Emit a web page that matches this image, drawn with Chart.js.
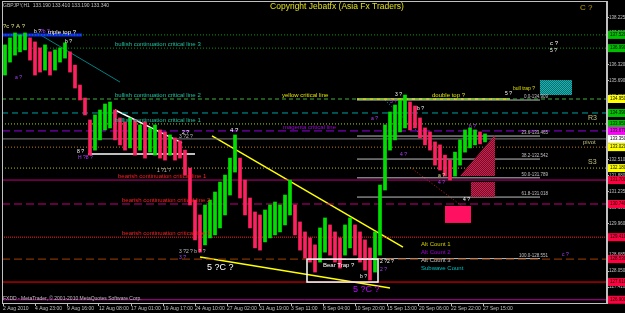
<!DOCTYPE html>
<html>
<head>
<meta charset="utf-8">
<script src="https://cdn.jsdelivr.net/npm/chart.js@4.4.0/dist/chart.umd.min.js"></script>
<style>
  html, body { margin: 0; padding: 0; background: #000; }
  #wrap { width: 625px; height: 313px; }
</style>
</head>
<body>
<div id="wrap"><canvas id="chart" width="625" height="313"></canvas></div>
<script>
// x unit = number of H1 bars since 2 Aug 2010 00:00
var timeTicks = [0, 64, 128, 192, 256, 320, 384, 448, 512, 576, 640, 704, 768, 832, 896, 960];
var timeLabels = ['2 Aug 2010', '4 Aug 23:00', '9 Aug 16:00', '12 Aug 08:00', '17 Aug 01:00', '19 Aug 17:00',
  '24 Aug 10:00', '27 Aug 02:00', '31 Aug 19:00', '3 Sep 11:00', '8 Sep 04:00', '10 Sep 20:00',
  '15 Sep 13:00', '20 Sep 06:00', '22 Sep 22:00', '27 Sep 15:00'];
var priceTicks = [138.225, 137.590, 136.955, 136.320, 135.690, 135.050, 134.415, 133.780, 133.145,
  132.510, 131.880, 131.235, 130.600, 129.960, 129.330, 128.685, 128.050, 127.410];

// GBPJPY price ranges, one bar per 10 hours
var barHigh = [137.12,137.40,137.60,137.52,137.60,137.40,137.24,137.00,137.12,136.84,
  136.92,137.00,137.20,136.84,136.31,135.51,134.99,134.11,134.31,134.51,
  134.75,134.83,134.51,134.19,134.03,134.19,134.11,133.91,134.03,133.79,
  133.91,133.71,133.63,133.51,133.39,133.27,132.90,132.18,130.90,130.30,
  130.70,130.90,131.22,131.62,131.90,132.58,133.51,132.58,131.70,130.98,
  130.42,130.30,130.50,130.70,130.82,130.70,131.10,131.70,130.70,130.02,
  129.62,129.38,129.10,129.78,130.18,129.90,129.62,129.38,129.90,130.18,
  129.90,129.62,129.30,128.98,129.62,131.50,133.91,134.43,134.71,134.91,
  135.11,134.83,134.67,134.19,133.79,133.63,133.23,133.11,132.70,132.50,
  132.82,133.31,133.71,133.79,133.71,133.63,133.55];
var barLow = [135.91,136.43,136.71,136.84,136.92,136.51,135.91,136.03,136.11,135.91,
  136.11,136.43,136.59,136.03,135.39,134.91,134.31,132.70,132.90,133.31,
  133.71,133.79,133.31,133.11,132.90,132.99,132.70,132.90,132.58,132.82,
  132.70,132.58,132.50,132.70,132.50,132.58,131.90,130.70,129.30,128.81,
  129.10,129.38,129.50,129.78,130.30,131.10,132.02,130.98,130.30,129.78,
  128.98,128.89,129.22,129.38,129.50,129.62,129.90,130.30,129.50,128.89,
  128.57,128.41,128.01,128.41,128.81,128.69,128.41,128.17,128.69,128.98,
  128.69,128.41,128.09,127.69,128.01,128.69,131.30,132.90,133.31,133.63,
  133.79,133.71,133.79,133.39,133.11,132.90,132.30,132.10,131.86,131.70,
  131.86,132.30,132.82,132.99,133.11,133.15,133.23];

// horizontal critical lines
var levelPrices = [137.52, 136.99, 134.95, 134.39, 133.95, 133.67, 133.35, 133.02, 132.18, 131.70, 130.74, 129.41, 128.53, 127.61, 126.90];
var levelColors = ['#00a000','#00a000','#40b040','#00a0a0','#a0e000','#9000e0','#808080','#c08000','#c0c000','#c00080','#c00080','#ff2020','#a04000','#ff0000','#c000a0'];
var levelDash = [[1,2],[1,2],[4,3],[6,4],[1,2],[8,4],[],[1,2],[1,2],[],[8,4],[1,1],[8,4],[],[]];
var boxColors = ['#00c000','#00c000','#ffff00','#00c000','#00c000','#ff00ff','#ffffff','#ffff00','#ffff00','#ff0040','#ff0040','#ff0040','#ff0040','#ff0040','#ff0040'];

var lineLabels = [
  [224, 136.99, 'bullish continuation critical line 3', '#20c0a0'],
  [224, 134.95, 'bullish continuation critical line 2', '#20c0a0'],
  [558, 134.95, 'yellow critical line', '#e0e000'],
  [858, 134.95, 'double top ?', '#e0e000'],
  [224, 133.95, 'bullish continuation critical line 1', '#20c0a0'],
  [560, 133.67, 'magenta critical line', '#a000e0'],
  [230, 131.70, 'bearish continuation critical line 1', '#ff2020'],
  [238, 130.74, 'bearish continuation critical line 2', '#ff2020'],
  [238, 129.41, 'bearish continuation critical line 3', '#ff2020']
];

// fibonacci retracement
var fibPrices = [134.909, 133.465, 132.542, 131.789, 131.018, 128.551];
var fibNames = ['0.0-134.909', '23.6-133.465', '38.2-132.542', '50.0-131.789', '61.8-131.018', '100.0-128.551'];
var fibStart = 708, fibEnd = 1074;

// trend lines: t1, p1, t2, p2, colour, width, dash
var trendLines = [
  [-2, 137.52, 158, 137.52, '#1028ff', 3, []],
  [708, 134.95, 1014, 134.95, '#ffff00', 1.5, []],
  [800, 134.95, 1014, 134.95, '#2040ff', 1.5, [4,4]],
  [68, 137.60, 234, 135.63, '#008080', 1, []],
  [224, 134.51, 358, 133.19, '#ffffff', 1.5, []],
  [170, 132.74, 384, 132.74, '#ffffff', 1.5, []],
  [418, 133.47, 800, 129.01, '#ffff00', 1.5, []],
  [394, 128.61, 774, 127.37, '#ffff00', 1.5, []],
  [764, 134.91, 888, 132.50, '#00a0a0', 1, [1,2]],
  [814, 132.22, 934, 130.42, '#c02020', 1, [1,2]]
];

// wave count notes: t, p, text, colour, size
var notes = [
  [0, 137.88, '?c ? A ?', '#e0e080', 6],
  [62, 137.64, 'b ?', '#ffffff', 5],
  [74, 137.64, '?b ?', '#b040ff', 5],
  [90, 137.64, 'triple top ?', '#ffffff', 6],
  [124, 137.24, 'b ?', '#ffffff', 5],
  [24, 135.79, 'a ?', '#b040ff', 5],
  [148, 132.82, '8 ?', '#ffffff', 5],
  [150, 132.58, 'H ?8 ?', '#b040ff', 5],
  [454, 133.71, '4 ?', '#ffffff', 6],
  [358, 133.59, '2 ?', '#ffffff', 5],
  [352, 133.45, '3 ?2 ?', '#c0c0c0', 5],
  [308, 132.06, '1 ?1 ?', '#c0c0c0', 5],
  [352, 128.85, '3 ?2 ? b ? ?', '#c0c0c0', 5],
  [352, 128.57, '3 ?', '#b040ff', 5],
  [408, 128.21, '5 ?C ?', '#ffffff', 9],
  [640, 128.29, 'Bear Trap ?', '#ffffff', 6],
  [714, 127.81, 'b ?', '#ffffff', 5],
  [700, 127.33, '5 ?C ?', '#c000ff', 9],
  [754, 128.41, '2 ?2 ?', '#ffffff', 5],
  [754, 128.09, '2 ?', '#b040ff', 5],
  [736, 134.15, 'a ?', '#b040ff', 5],
  [784, 135.11, '3 ?', '#ffffff', 5],
  [774, 134.83, '5 ?', '#b040ff', 5],
  [828, 134.55, 'b ?', '#ffffff', 5],
  [794, 132.70, '4 ?', '#b040ff', 5],
  [870, 131.86, 'a ?', '#e0e080', 5],
  [870, 131.58, '4 ?', '#b040ff', 5],
  [920, 130.90, '4 ?', '#ffffff', 5],
  [932, 133.83, 'b ?', '#b040ff', 5],
  [1004, 135.15, '5 ?', '#ffffff', 5],
  [1020, 135.35, 'bull trap ?', '#e0e000', 5],
  [1094, 137.20, 'c ?', '#ffffff', 6],
  [1094, 136.88, '5 ?', '#ffffff', 5],
  [1118, 128.69, 'c ?', '#b040ff', 5],
  [836, 129.14, 'Alt Count 1', '#d0d000', 6],
  [836, 128.81, 'Alt Count 2', '#a000e0', 6],
  [836, 128.49, 'Alt Count 3', '#c0c0c0', 6],
  [836, 128.17, 'Subwave Count', '#00c0c0', 6],
  [1170, 134.19, 'R3', '#c0c080', 7],
  [1160, 133.23, 'pivot', '#c0c080', 6],
  [1170, 132.42, 'S3', '#c0c080', 7]
];

// zones: t1, p1, t2, p2
var tealZone = [1074, 135.71, 1138, 135.11];
var redZone = [936, 131.62, 984, 131.02];
var pinkZone = [884, 130.66, 936, 129.98];
var bearTrapBox = [608, 128.53, 750, 127.61];
var redTriangle = [[914, 131.86], [984, 133.51], [984, 131.86]];

var FONT = '"Liberation Sans", Arial, sans-serif';

var barTimes = [];
for (var i = 0; i < barHigh.length; i++) barTimes.push(4 + i * 10);

function seg(t1, p1, t2, p2, color, width, dash) {
  return {
    type: 'line', data: [{x: t1, y: p1}, {x: t2, y: p2}],
    borderColor: color, borderWidth: width, borderDash: dash,
    pointRadius: 0, fill: false, order: 2
  };
}

var datasets = [];
datasets.push({
  type: 'bar', label: 'GBPJPY',
  data: barTimes.map(function (t, i) { return {x: t, y: [barLow[i], barHigh[i]]}; }),
  backgroundColor: function (c) {
    var i = c.dataIndex;
    if (i === 0) return '#00e000';
    var m = barHigh[i] + barLow[i], pm = barHigh[i - 1] + barLow[i - 1];
    return m >= pm ? '#00e000' : '#ff2060';
  },
  barThickness: 3, order: 0
});
levelPrices.forEach(function (p, i) {
  datasets.push(seg(-2, p, 1208, p, levelColors[i], 1, levelDash[i]));
});
fibPrices.forEach(function (p) {
  datasets.push(seg(fibStart, p, fibEnd, p, '#c0c0c0', 1, []));
});
trendLines.forEach(function (l) {
  datasets.push(seg(l[0], l[1], l[2], l[3], l[4], l[5], l[6]));
});

function pattern(ctx, a, b) {
  var pc = document.createElement('canvas');
  pc.width = 2; pc.height = 2;
  var g = pc.getContext('2d');
  g.fillStyle = a; g.fillRect(0, 0, 2, 2);
  g.fillStyle = b; g.fillRect(0, 0, 1, 1); g.fillRect(1, 1, 1, 1);
  return ctx.createPattern(pc, 'repeat');
}

var overlay = {
  id: 'overlay',
  beforeDraw: function (chart) {
    var c = chart.ctx;
    c.save();
    c.fillStyle = '#000';
    c.fillRect(0, 0, chart.width, chart.height);
    c.restore();
  },
  afterDatasetsDraw: function (chart) {
    var c = chart.ctx, xs = chart.scales.x, ys = chart.scales.y, a = chart.chartArea;
    function X(t) { return xs.getPixelForValue(t); }
    function Y(p) { return ys.getPixelForValue(p); }
    function rect(z) { return [X(z[0]), Y(z[1]), X(z[2]) - X(z[0]), Y(z[3]) - Y(z[1])]; }
    c.save();
    var r = rect(tealZone);
    c.fillStyle = pattern(c, '#007070', '#20b0b0');
    c.fillRect(r[0], r[1], r[2], r[3]);
    r = rect(redZone);
    c.fillStyle = pattern(c, '#701028', '#d02050');
    c.fillRect(r[0], r[1], r[2], r[3]);
    c.beginPath();
    c.moveTo(X(redTriangle[0][0]), Y(redTriangle[0][1]));
    c.lineTo(X(redTriangle[1][0]), Y(redTriangle[1][1]));
    c.lineTo(X(redTriangle[2][0]), Y(redTriangle[2][1]));
    c.closePath();
    c.fill();
    r = rect(pinkZone);
    c.fillStyle = '#ff1060';
    c.fillRect(r[0], r[1], r[2], r[3]);
    r = rect(bearTrapBox);
    c.strokeStyle = '#ffffff';
    c.lineWidth = 1.5;
    c.strokeRect(r[0], r[1], r[2], r[3]);

    c.textBaseline = 'middle';
    c.textAlign = 'left';
    lineLabels.forEach(function (l) {
      c.font = '6px ' + FONT;
      c.fillStyle = l[3];
      c.fillText(l[2], X(l[0]), Y(l[1]) - 4);
    });
    c.textAlign = 'right';
    c.font = '4.5px ' + FONT;
    c.fillStyle = '#c0c0c0';
    fibPrices.forEach(function (p, i) {
      c.fillText(fibNames[i], X(fibEnd) + 8, Y(p) - 3);
    });
    c.textAlign = 'left';
    notes.forEach(function (n) {
      c.font = n[4] + 'px ' + FONT;
      c.fillStyle = n[3];
      c.fillText(n[2], X(n[0]), Y(n[1]));
    });

    // frame
    c.strokeStyle = '#c0c0c0';
    c.lineWidth = 1;
    c.strokeRect(a.left + 0.5, a.top + 0.5, a.right - a.left - 1, a.bottom - a.top);

    // price boxes on the axis
    c.font = '4.5px ' + FONT;
    levelPrices.forEach(function (p, i) {
      var y = Y(p);
      c.fillStyle = boxColors[i];
      c.fillRect(a.right + 1, y - 4, 18, 8);
      c.fillStyle = '#000';
      c.fillText(p.toFixed(3), a.right + 3, y);
    });

    // header and footer
    c.fillStyle = '#c0c0c0';
    c.font = '5px ' + FONT;
    c.fillText('GBPJPY,H1  133.190 133.410 133.190 133.340', 3, 6);
    c.fillText('FXDD - MetaTrader, \u00a9 2001-2010 MetaQuotes Software Corp.', 3, 299);
    c.fillStyle = '#e0e020';
    c.font = '8.5px ' + FONT;
    c.textAlign = 'center';
    c.fillText('Copyright Jebatfx (Asia Fx Traders)', 337, 7);
    c.fillStyle = '#c0a000';
    c.font = '8px ' + FONT;
    c.textAlign = 'left';
    c.fillText('C ?', 580, 8);
    c.restore();
  }
};

new Chart(document.getElementById('chart'), {
  type: 'bar',
  data: { datasets: datasets },
  options: {
    responsive: false,
    animation: false,
    layout: { padding: { left: 2, top: 1, right: 0, bottom: 0 } },
    plugins: { legend: { display: false }, tooltip: { enabled: false } },
    scales: {
      x: {
        type: 'linear', min: -2, max: 1208, offset: false,
        afterBuildTicks: function (s) { s.ticks = timeTicks.map(function (v) { return {value: v}; }); },
        afterFit: function (s) { s.height = 10; s.paddingLeft = 0; s.paddingRight = 0; },
        ticks: {
          autoSkip: false, maxRotation: 0, align: 'start', padding: 0,
          color: '#c0c0c0', font: { size: 5, family: FONT },
          callback: function (v, i) { return timeLabels[i]; }
        },
        grid: { drawOnChartArea: false, offset: false, color: '#c0c0c0', tickLength: 3 },
        border: { color: '#c0c0c0' }
      },
      y: {
        type: 'linear', position: 'right', min: 126.77, max: 138.88,
        afterBuildTicks: function (s) { s.ticks = priceTicks.map(function (v) { return {value: v}; }); },
        afterFit: function (s) { s.width = 18; s.paddingTop = 0; s.paddingBottom = 0; },
        ticks: {
          padding: 0, color: '#c0c0c0', font: { size: 4.5, family: FONT },
          callback: function (v) { return v.toFixed(3); }
        },
        grid: { drawOnChartArea: false, color: '#c0c0c0', tickLength: 2 },
        border: { color: '#c0c0c0' }
      }
    }
  },
  plugins: [overlay]
});
</script>
</body>
</html>
